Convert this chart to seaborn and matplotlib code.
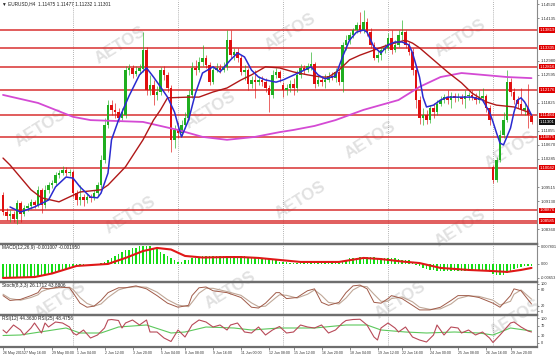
import matplotlib
matplotlib.use("Agg")
import matplotlib.pyplot as plt
import seaborn as sns

sns.set_style("white")
plt.rcParams['font.family'] = ['Liberation Sans', 'DejaVu Sans']

# EURUSD H4, bar 0 = 26 May 2015 16:00
opens = [1.0930, 1.0883, 1.0872, 1.0878, 1.0864, 1.0908, 1.0878, 1.0894, 1.0900, 1.0911,
         1.0902, 1.0944, 1.0902, 1.0944, 1.0957, 1.0963, 1.0985, 1.0990, 1.0998, 1.0990,
         1.0993, 1.0935, 1.0916, 1.0924, 1.0916, 1.0924, 1.0922, 1.0935, 1.0957, 1.1026,
         1.1122, 1.1176, 1.1163, 1.1157, 1.1141, 1.1149, 1.1272, 1.1278, 1.1261, 1.1270,
         1.1275, 1.1327, 1.1218, 1.1231, 1.1204, 1.1212, 1.1272, 1.1259, 1.1223, 1.1081,
         1.1108, 1.1100, 1.1122, 1.1141, 1.1204, 1.1278, 1.1272, 1.1294, 1.1305, 1.1286,
         1.1239, 1.1272, 1.1278, 1.1272, 1.1281, 1.1354, 1.1313, 1.1322, 1.1305, 1.1267,
         1.1272, 1.1234, 1.1245, 1.1239, 1.1245, 1.1239, 1.1223, 1.1204, 1.1259, 1.1267,
         1.1231, 1.1218, 1.1223, 1.1234, 1.1223, 1.1259, 1.1278, 1.1272, 1.1283, 1.1289,
         1.1234, 1.1245, 1.1239, 1.1245, 1.1256, 1.1250, 1.1267, 1.1239, 1.1341, 1.1354,
         1.1368, 1.1382, 1.1396, 1.1382, 1.1404, 1.1376, 1.1341, 1.1305, 1.1313, 1.1327,
         1.1333, 1.1360, 1.1327, 1.1341, 1.1368, 1.1376, 1.1341, 1.1322, 1.1272, 1.1190,
         1.1141, 1.1149, 1.1135, 1.1168, 1.1157, 1.1179, 1.1190, 1.1198, 1.1190, 1.1201,
         1.1196, 1.1198, 1.1193, 1.1201, 1.1204, 1.1198, 1.1190, 1.1196, 1.1201, 1.1168,
         1.1007, 1.0971, 1.1026, 1.1094, 1.1135, 1.1239, 1.1212, 1.1190, 1.1179, 1.1163,
         1.1168, 1.11475]
highs = [1.0938, 1.0894, 1.0889, 1.0886, 1.0916, 1.0913, 1.0902, 1.0908, 1.0919, 1.0916,
         1.0954, 1.0949, 1.0957, 1.0965, 1.0971, 1.0993, 1.0998, 1.1009, 1.1007, 1.1001,
         1.0998, 1.0944, 1.0957, 1.0933, 1.0933, 1.0933, 1.0944, 1.0965, 1.1039, 1.1141,
         1.1190, 1.1190, 1.1182, 1.1168, 1.1168, 1.1283, 1.1289, 1.1286, 1.1283, 1.1289,
         1.1376, 1.1335, 1.1259, 1.1245, 1.1228, 1.1281, 1.1283, 1.1267, 1.1231, 1.1122,
         1.1130, 1.1135, 1.1157, 1.1218, 1.1294, 1.1300, 1.1308, 1.1341, 1.1313, 1.1294,
         1.1283, 1.1291, 1.1289, 1.1294, 1.1382, 1.1382, 1.1333, 1.1333, 1.1313, 1.1286,
         1.1278, 1.1256, 1.1272, 1.1256, 1.1256, 1.1250, 1.1231, 1.1272, 1.1278, 1.1272,
         1.1239, 1.1234, 1.1245, 1.1250, 1.1272, 1.1289, 1.1286, 1.1291, 1.1322, 1.1294,
         1.1256, 1.1256, 1.1261, 1.1267, 1.1267, 1.1278, 1.1278, 1.1349, 1.1368, 1.1376,
         1.1387, 1.1404, 1.1431, 1.1437, 1.1415, 1.1387, 1.1349, 1.1327, 1.1335, 1.1344,
         1.1374, 1.1382, 1.1354, 1.1382, 1.1409, 1.1382, 1.1349, 1.1333, 1.1283, 1.1201,
         1.1168, 1.1163, 1.1176, 1.1182, 1.1190, 1.1201, 1.1207, 1.1218, 1.1212, 1.1209,
         1.1209, 1.1207, 1.1218, 1.1212, 1.1218, 1.1209, 1.1218, 1.1223, 1.1207, 1.1176,
         1.1012, 1.1034, 1.1108, 1.1157, 1.1272, 1.1250, 1.1223, 1.1201, 1.1223, 1.1179,
         1.1234, 1.11477]
lows = [1.0875, 1.0861, 1.0856, 1.0856, 1.0850, 1.0856, 1.0872, 1.0886, 1.0891, 1.0894,
        1.0897, 1.0881, 1.0894, 1.0935, 1.0949, 1.0954, 1.0976, 1.0985, 1.0982, 1.0982,
        1.0924, 1.0902, 1.0902, 1.0900, 1.0908, 1.0911, 1.0916, 1.0927, 1.0949, 1.1018,
        1.1113, 1.1149, 1.1141, 1.1130, 1.1135, 1.1141, 1.1259, 1.1250, 1.1256, 1.1261,
        1.1267, 1.1204, 1.1204, 1.1176, 1.1190, 1.1204, 1.1245, 1.1212, 1.1048, 1.1059,
        1.1086, 1.1091, 1.1113, 1.1135, 1.1196, 1.1259, 1.1267, 1.1283, 1.1278, 1.1231,
        1.1234, 1.1267, 1.1264, 1.1267, 1.1272, 1.1305, 1.1300, 1.1294, 1.1259, 1.1245,
        1.1218, 1.1223, 1.1196, 1.1231, 1.1228, 1.1212, 1.1157, 1.1196, 1.1250, 1.1239,
        1.1198, 1.1204, 1.1212, 1.1204, 1.1212, 1.1250, 1.1261, 1.1267, 1.1272, 1.1223,
        1.1228, 1.1228, 1.1223, 1.1239, 1.1245, 1.1239, 1.1231, 1.1212, 1.1327, 1.1344,
        1.1360, 1.1374, 1.1374, 1.1374, 1.1365, 1.1333, 1.1300, 1.1294, 1.1300, 1.1319,
        1.1327, 1.1316, 1.1322, 1.1335, 1.1354, 1.1333, 1.1313, 1.1259, 1.1168, 1.1124,
        1.1122, 1.1124, 1.1127, 1.1141, 1.1149, 1.1174, 1.1182, 1.1179, 1.1168, 1.1185,
        1.1187, 1.1179, 1.1168, 1.1190, 1.1190, 1.1179, 1.1182, 1.1185, 1.1157, 1.1122,
        1.0963, 1.0965, 1.1020, 1.1086, 1.1130, 1.1201, 1.1179, 1.1168, 1.1152, 1.1149,
        1.1113, 1.11232]
closes = [1.0883, 1.0872, 1.0878, 1.0864, 1.0908, 1.0878, 1.0894, 1.0900, 1.0911, 1.0902,
          1.0944, 1.0902, 1.0944, 1.0957, 1.0963, 1.0985, 1.0990, 1.0998, 1.0990, 1.0993,
          1.0935, 1.0916, 1.0924, 1.0916, 1.0924, 1.0922, 1.0935, 1.0957, 1.1026, 1.1122,
          1.1176, 1.1163, 1.1157, 1.1141, 1.1157, 1.1272, 1.1278, 1.1261, 1.1270, 1.1278,
          1.1327, 1.1218, 1.1231, 1.1204, 1.1212, 1.1272, 1.1259, 1.1223, 1.1081, 1.1108,
          1.1100, 1.1122, 1.1141, 1.1204, 1.1278, 1.1272, 1.1294, 1.1305, 1.1286, 1.1239,
          1.1272, 1.1278, 1.1272, 1.1281, 1.1354, 1.1313, 1.1322, 1.1305, 1.1267, 1.1272,
          1.1234, 1.1245, 1.1239, 1.1245, 1.1239, 1.1223, 1.1204, 1.1259, 1.1267, 1.1250,
          1.1218, 1.1223, 1.1234, 1.1223, 1.1259, 1.1278, 1.1272, 1.1283, 1.1289, 1.1234,
          1.1245, 1.1239, 1.1245, 1.1256, 1.1250, 1.1267, 1.1239, 1.1341, 1.1354, 1.1368,
          1.1382, 1.1396, 1.1382, 1.1404, 1.1376, 1.1341, 1.1305, 1.1313, 1.1327, 1.1333,
          1.1360, 1.1327, 1.1341, 1.1368, 1.1376, 1.1341, 1.1322, 1.1272, 1.1190, 1.1141,
          1.1149, 1.1135, 1.1168, 1.1157, 1.1179, 1.1190, 1.1198, 1.1190, 1.1201, 1.1196,
          1.1198, 1.1193, 1.1201, 1.1204, 1.1198, 1.1190, 1.1196, 1.1201, 1.1168, 1.1135,
          1.0971, 1.1026, 1.1094, 1.1135, 1.1239, 1.1212, 1.1190, 1.1179, 1.1163, 1.1168,
          1.1148, 1.11301]

# moving averages (bar index, price)
ma_fast_idx = [2, 5, 9, 13, 15, 18, 20, 22, 25, 27, 28, 30, 31, 33, 36, 39, 41, 43, 45, 47,
               49, 50, 51, 53, 55, 57, 60, 62, 65, 67, 69, 71, 73, 75, 78, 80, 85, 88, 90, 92,
               95, 97, 99, 101, 103, 104, 106, 108, 110, 112, 114, 116, 117, 119, 120, 121, 123,
               125, 127, 131, 134, 137, 139, 140, 141, 142, 143, 145, 146, 147, 148, 149, 150, 151]
ma_fast = [1.0897, 1.0883, 1.0897, 1.0916, 1.0952, 1.0979, 1.0976, 1.0952, 1.0924, 1.0922,
           1.0935, 1.0990, 1.1081, 1.1135, 1.1201, 1.1259, 1.1278, 1.1253, 1.1226, 1.1198,
           1.1157, 1.1122, 1.1089, 1.1135, 1.1209, 1.1264, 1.1281, 1.1267, 1.1300, 1.1319,
           1.1308, 1.1272, 1.1253, 1.1245, 1.1239, 1.1245, 1.1267, 1.1281, 1.1259, 1.1248,
           1.1256, 1.1308, 1.1354, 1.1376, 1.1382, 1.1376, 1.1335, 1.1319, 1.1341, 1.1349,
           1.1349, 1.1341, 1.1319, 1.1253, 1.1198, 1.1171, 1.1176, 1.1190, 1.1198, 1.1198,
           1.1198, 1.1190, 1.1157, 1.1130, 1.1100, 1.1072, 1.1067, 1.1113, 1.1157, 1.1190,
           1.1196, 1.1185, 1.1168, 1.1149]
ma_mid_idx = [0, 2, 8, 11, 16, 22, 28, 30, 35, 40, 43, 45, 47, 53, 56, 60, 64, 68, 71, 75,
              79, 83, 87, 91, 93, 96, 99, 102, 106, 110, 113, 115, 117, 119, 123, 127, 131, 134,
              138, 141, 146, 150, 151]
ma_mid = [1.1031, 1.1012, 1.0944, 1.0922, 1.0911, 1.0938, 1.0944, 1.0957, 1.1007, 1.1081,
          1.1135, 1.1163, 1.1196, 1.1198, 1.1198, 1.1212, 1.1223, 1.1245, 1.1259, 1.1281,
          1.1278, 1.1267, 1.1259, 1.1253, 1.1253, 1.1272, 1.1300, 1.1313, 1.1327, 1.1341,
          1.1349, 1.1354, 1.1346, 1.1333, 1.1300, 1.1267, 1.1237, 1.1209, 1.1185, 1.1176,
          1.1171, 1.1157, 1.1149]
ma_slow_idx = [0, 10, 20, 25, 40, 50, 57, 64, 72, 79, 83, 89, 95, 103, 113, 119, 125, 131,
               137, 144, 151]
ma_slow = [1.1204, 1.1182, 1.1144, 1.1135, 1.1130, 1.1108, 1.1089, 1.1081, 1.1089, 1.1102,
           1.1108, 1.1119, 1.1135, 1.1163, 1.1190, 1.1226, 1.1253, 1.1264, 1.1259, 1.1253,
           1.1250]

# support / resistance levels
levels = [1.13819, 1.13335, 1.12816, 1.12176, 1.11484, 1.10875, 1.10042, 1.08876, 1.08585, 1.08520]
level_labels = [1.13819, 1.13335, 1.12816, 1.12176, 1.11484, 1.10875, 1.10042, 1.08876, 1.08585]
price_ticks = [1.14520, 1.14135, 1.12980, 1.12595, 1.11825, 1.11055, 1.10670, 1.10285,
               1.09515, 1.09130, 1.08360]

# MACD(12,26,9)
macd_hist = [-0.0063, -0.0065, -0.0065, -0.0065, -0.0063, -0.0063, -0.0063, -0.0061, -0.0061, -0.0059,
             -0.0059, -0.0054, -0.0052, -0.0050, -0.0045, -0.0041, -0.0036, -0.0029, -0.0023, -0.0016,
             -0.0009, -0.0007, -0.0005, -0.0005, -0.0002, -0.0002, -0.0002, 0.0000, 0.0002, 0.0009,
             0.0018, 0.0027, 0.0036, 0.0041, 0.0050, 0.0059, 0.0063, 0.0068, 0.0072, 0.0077,
             0.0079, 0.0079, 0.0077, 0.0072, 0.0068, 0.0054, 0.0041, 0.0032, 0.0023, 0.0014,
             0.0009, 0.0009, 0.0014, 0.0018, 0.0023, 0.0027, 0.0029, 0.0032, 0.0032, 0.0032,
             0.0032, 0.0032, 0.0032, 0.0032, 0.0034, 0.0034, 0.0034, 0.0032, 0.0032, 0.0032,
             0.0029, 0.0029, 0.0027, 0.0027, 0.0025, 0.0023, 0.0020, 0.0018, 0.0014, 0.0009,
             0.0007, 0.0005, 0.0002, 0.0002, 0.0002, 0.0002, 0.0002, 0.0005, 0.0005, 0.0005,
             0.0002, 0.0002, 0.0002, 0.0002, 0.0002, 0.0002, 0.0002, 0.0009, 0.0016, 0.0023,
             0.0025, 0.0027, 0.0029, 0.0029, 0.0029, 0.0029, 0.0029, 0.0027, 0.0027, 0.0025,
             0.0025, 0.0023, 0.0023, 0.0020, 0.0018, 0.0016, 0.0014, 0.0009, -0.0005, -0.0011,
             -0.0018, -0.0023, -0.0027, -0.0029, -0.0032, -0.0032, -0.0034, -0.0034, -0.0034, -0.0034,
             -0.0034, -0.0034, -0.0034, -0.0034, -0.0034, -0.0034, -0.0034, -0.0034, -0.0034, -0.0036,
             -0.0045, -0.0052, -0.0052, -0.0050, -0.0041, -0.0032, -0.0023, -0.0018, -0.0014, -0.0011,
             -0.0009, -0.0009]
macd_sig_idx = [0, 9, 14, 21, 30, 35, 40, 44, 48, 52, 57, 64, 68, 73, 79, 85, 96, 103, 108,
                114, 119, 125, 133, 140, 144, 148, 151]
macd_sig = [-0.0065, -0.0061, -0.0045, -0.0011, -0.0002, 0.0025, 0.0056, 0.0070, 0.0063, 0.0034,
            0.0027, 0.0029, 0.0029, 0.0025, 0.0016, 0.0007, 0.0007, 0.0025, 0.0020, 0.0009,
            0.0002, -0.0020, -0.0029, -0.0034, -0.0038, -0.0029, -0.0020]

# Stochastic(8,3,3)
stoch_idx = [0, 2, 5, 8, 10, 11, 13, 16, 19, 20, 22, 24, 26, 28, 30, 33, 35, 38, 41, 44,
             47, 50, 53, 54, 56, 58, 60, 64, 68, 71, 73, 75, 78, 79, 81, 84, 87, 89, 91, 93,
             96, 98, 100, 102, 104, 106, 108, 110, 111, 114, 117, 119, 122, 125, 128, 130, 133,
             136, 140, 142, 145, 146, 148, 151]
stoch_main = [57, 39, 43, 57, 68, 86, 82, 89, 86, 68, 29, 14, 18, 39, 68, 86, 86, 93, 82, 57,
              29, 14, 21, 57, 86, 89, 75, 68, 50, 14, 11, 29, 68, 68, 46, 50, 75, 82, 32, 21,
              32, 68, 93, 96, 82, 32, 29, 46, 57, 46, 21, 4, 4, 14, 39, 57, 57,
              50, 29, 14, 57, 82, 75, 26]
stoch_sig = [62, 46, 40, 50, 60, 72, 82, 86, 88, 80, 50, 28, 18, 26, 50, 78, 86, 90, 88, 70,
             42, 22, 16, 32, 66, 84, 84, 72, 58, 30, 16, 18, 50, 60, 58, 48, 62, 78, 58, 32,
             26, 48, 78, 92, 90, 62, 36, 36, 46, 52, 34, 14, 6, 8, 26, 46, 56,
             54, 40, 22, 36, 62, 78, 44]

# RSI(12) and RSI(25)
rsi_fast_idx = [0, 1, 3, 5, 6, 8, 9, 11, 12, 13, 15, 17, 19, 20, 21, 23, 25, 27, 29, 30,
                31, 33, 34, 35, 37, 39, 41, 42, 44, 46, 48, 50, 52, 54, 56, 58, 60, 62, 64, 65,
                67, 69, 71, 73, 75, 77, 79, 81, 83, 85, 87, 89, 91, 93, 95, 97, 98, 100, 102, 104,
                106, 107, 108, 110, 112, 113, 115, 117, 119, 121, 123, 124, 126, 128, 130, 131, 133,
                135, 137, 139, 140, 142, 145, 146, 148, 150, 151]
rsi_fast = [52, 40, 72, 52, 32, 60, 80, 40, 80, 64, 84, 80, 64, 40, 32, 52, 20, 32, 60, 92,
            94, 90, 60, 80, 92, 72, 92, 44, 44, 20, 6, 52, 24, 72, 92, 84, 64, 72, 52, 72,
            80, 44, 40, 64, 32, 52, 66, 40, 44, 72, 64, 60, 72, 40, 52, 80, 90, 94, 95, 72,
            24, 12, 60, 80, 60, 44, 64, 24, 12, 4, 32, 72, 32, 64, 60, 40, 52,
            32, 44, 20, 2, 32, 80, 84, 64, 48, 44]
rsi_slow_idx = [0, 5, 18, 22, 28, 33, 41, 48, 52, 58, 66, 71, 79, 89, 98, 104, 108, 115, 121,
                129, 136, 140, 145, 151]
rsi_slow = [30, 32, 60, 40, 40, 64, 72, 40, 44, 64, 60, 52, 60, 60, 72, 72, 52, 44, 40,
            44, 40, 32, 60, 48]

time_idx = [0, 6, 14, 21, 29, 37, 45, 52, 60, 68, 76, 83, 91, 99, 107, 114, 122, 130, 138, 145]
time_labels = ['26 May 2015', '27 May 16:00', '29 May 00:00', '1 Jun 04:00', '2 Jun 12:00',
               '3 Jun 20:00', '5 Jun 04:00', '8 Jun 08:00', '9 Jun 16:00', '11 Jun 00:00',
               '12 Jun 08:00', '15 Jun 12:00', '16 Jun 20:00', '18 Jun 04:00', '19 Jun 12:00',
               '22 Jun 16:00', '24 Jun 00:00', '25 Jun 08:00', '26 Jun 16:00', '29 Jun 20:00']
week_idx = [20, 50, 80, 110, 140]

W, H = 560, 355
fig = plt.figure(figsize=(5.6, 3.55), dpi=100)
fig.patch.set_facecolor('white')


def box(x0, y0, x1, y1):
    return [x0 / W, 1 - y1 / H, (x1 - x0) / W, (y1 - y0) / H]


ax_main = fig.add_axes(box(0, 0, 537, 244))
ax_macd = fig.add_axes(box(0, 244, 537, 282))
ax_sto = fig.add_axes(box(0, 282, 537, 315))
ax_rsi = fig.add_axes(box(0, 315, 537, 347))

for ax in [ax_main, ax_macd, ax_sto, ax_rsi]:
    ax.set_facecolor('none')
    ax.set_xlim(-0.86, 152.57)
    ax.yaxis.tick_right()
    ax.tick_params(axis='y', labelsize=3.1, length=1.5, width=0.4, pad=1, colors='#333333')
    ax.tick_params(axis='x', bottom=False, labelbottom=False)
    ax.spines['left'].set_visible(False)
    ax.spines['right'].set_color('#8a8a8a')
    ax.spines['right'].set_linewidth(0.8)
    for s in ['top', 'bottom']:
        ax.spines[s].set_color('#6e6e6e')
        ax.spines[s].set_linewidth(1.6)
    for w in week_idx:
        ax.axvline(w, color='#9a9a9a', ls=(0, (1, 1.5)), lw=0.6, zorder=0)
ax_main.spines['top'].set_visible(False)

# watermark, behind the panels
marks = [(120, 45), (290, 32), (460, 38), (40, 128), (210, 110), (370, 140), (510, 150),
         (130, 215), (300, 200), (460, 228), (60, 300), (230, 290), (400, 300), (515, 318)]
for mx, my in marks:
    fig.text(mx / W, 1 - my / H, 'AETOS', rotation=32, fontsize=12, color='#e1e1e1',
             fontweight='bold', ha='center', va='center', zorder=-1)

# candles
up = '#1fae1f'
down = '#e01010'
for i in range(len(closes)):
    c = up if closes[i] >= opens[i] else down
    ax_main.vlines(i, lows[i], highs[i], color=c, lw=0.6, alpha=0.75, zorder=3)
    body = closes[i] - opens[i]
    if abs(body) < 0.00008:
        body = 0.00008
    ax_main.bar(i, body, bottom=opens[i], width=0.62, color=c, linewidth=0, zorder=4)

for lv in levels:
    ax_main.axhline(lv, color='#d83030', lw=1.1, zorder=2)

sns.lineplot(x=ma_slow_idx, y=ma_slow, ax=ax_main, color='#d44ad4', lw=1.3,
             estimator=None, sort=False, legend=False, zorder=5)
sns.lineplot(x=ma_mid_idx, y=ma_mid, ax=ax_main, color='#b01818', lw=1.0,
             estimator=None, sort=False, legend=False, zorder=5)
sns.lineplot(x=ma_fast_idx, y=ma_fast, ax=ax_main, color='#2a2ad0', lw=1.1,
             estimator=None, sort=False, legend=False, zorder=6)

ax_main.set_ylim(1.07955, 1.14641)
ax_main.set_yticks(price_ticks)
ax_main.set_yticklabels([f'{p:.5f}' for p in price_ticks])
ytr = ax_main.get_yaxis_transform()
for lv in level_labels:
    ax_main.text(1.004, lv, f'{lv:.5f}', transform=ytr, fontsize=3.1, color='white',
                 va='center', ha='left', clip_on=False, zorder=7,
                 bbox=dict(boxstyle='square,pad=0.15', fc='#e00000', ec='none'))
ax_main.text(1.004, closes[-1], f'{closes[-1]:.5f}', transform=ytr, fontsize=3.1,
             color='white', va='center', ha='left', clip_on=False, zorder=8,
             bbox=dict(boxstyle='square,pad=0.15', fc='#111111', ec='none'))
ax_main.text(0.004, 0.995, '\u25bc EURUSD,H4  1.11475 1.11477 1.11232 1.11301',
             transform=ax_main.transAxes, fontsize=3.4, va='top', ha='left', color='#222222')

# MACD
ax_macd.bar(range(len(macd_hist)), macd_hist, width=0.55, color='#14dc14', linewidth=0, zorder=3)
sns.lineplot(x=macd_sig_idx, y=macd_sig, ax=ax_macd, color='#e01818', lw=1.5,
             estimator=None, sort=False, legend=False, zorder=4)
ax_macd.set_ylim(-0.008325, 0.008775)
ax_macd.set_yticks([0.0078, 0.0, -0.0065])
ax_macd.set_yticklabels(['0.007801', '0.00', '-0.00653'])
ax_macd.tick_params(axis='y', labelsize=2.8)
ax_macd.text(0.004, 0.97, 'MACD(12,26,9) -0.001007 -0.001950', transform=ax_macd.transAxes,
             fontsize=3.4, va='top', ha='left', color='#222222')

# Stochastic
sns.lineplot(x=stoch_idx, y=stoch_sig, ax=ax_sto, color='#c0a898', lw=0.8,
             estimator=None, sort=False, legend=False)
sns.lineplot(x=stoch_idx, y=stoch_main, ax=ax_sto, color='#a05a48', lw=0.7,
             estimator=None, sort=False, legend=False)
ax_sto.set_ylim(-14.8, 107.4)
ax_sto.set_yticks([100, 80, 20, 0])
ax_sto.tick_params(axis='y', labelsize=2.8)
ax_sto.text(0.004, 0.96, 'Stoch(8,3,3) 26.1712 43.8806', transform=ax_sto.transAxes,
            fontsize=3.4, va='top', ha='left', color='#222222')

# RSI
sns.lineplot(x=rsi_slow_idx, y=rsi_slow, ax=ax_rsi, color='#5cc85c', lw=0.8,
             estimator=None, sort=False, legend=False)
sns.lineplot(x=rsi_fast_idx, y=rsi_fast, ax=ax_rsi, color='#b84a58', lw=0.8,
             estimator=None, sort=False, legend=False)
ax_rsi.set_ylim(-16, 112)
ax_rsi.set_yticks([100, 70, 30, 0])
ax_rsi.tick_params(axis='y', labelsize=2.8)
ax_rsi.text(0.004, 0.96, 'RSI(12) 44.3630 RSI(25) 48.4756', transform=ax_rsi.transAxes,
            fontsize=3.4, va='top', ha='left', color='#222222')
ax_rsi.set_xticks(time_idx)
ax_rsi.set_xticklabels(time_labels, ha='left')
ax_rsi.tick_params(axis='x', bottom=True, labelbottom=True, labelsize=2.6, length=2,
                   width=0.4, pad=1, colors='#333333')

for ax in [ax_main, ax_macd, ax_sto, ax_rsi]:
    ax.set_xlabel('')
    ax.set_ylabel('')

fig.savefig('out.png', dpi=100)
